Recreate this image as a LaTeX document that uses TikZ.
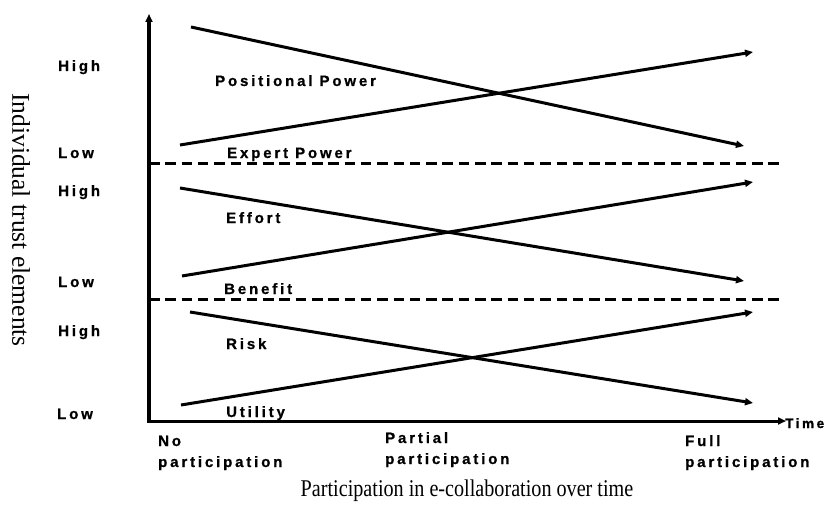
\documentclass[tikz,border=0pt]{standalone}
\usepackage{fontspec}
\usetikzlibrary{arrows.meta}
\newfontfamily\lblfont[LetterSpace=19,FakeBold=0.8]{Liberation Sans Bold}
\newfontfamily\serifrm{Liberation Serif}
\tikzset{
  lbl/.style={inner sep=0pt, anchor=base west, font=\lblfont\fontsize{15}{17}\selectfont},
  trend/.style={line width=3pt, -{Triangle[length=8pt,width=7pt]}},
  axis/.style={line width=3.5pt, -{Triangle[length=8pt,width=7pt]}},
  divider/.style={line width=3pt, dash pattern=on 10.5pt off 5.8pt}
}
\begin{document}
\begin{tikzpicture}[x=1pt,y=-1pt]
\useasboundingbox (0,0) rectangle (835,532);
% axes
\coordinate (O) at (149,421);
\coordinate (ytip) at (149,14);
\coordinate (xtip) at (786,421);
\coordinate (xstart) at (147,421);
\draw[axis, line width=4pt] (O) -- (ytip);
\draw[axis, line width=3pt] (xstart) -- (xtip);
\node[lbl, font=\lblfont\fontsize{13.5}{15}\selectfont] (time) at (785,428) {Time};
% dividers
\coordinate (d1a) at (149,163); \coordinate (d1b) at (780,163);
\coordinate (d2a) at (149,299); \coordinate (d2b) at (780,299);
\draw[divider] (d1a) -- (d1b);
\draw[divider] (d2a) -- (d2b);
% trend lines
\coordinate (a1) at (191,27);  \coordinate (a2) at (744,146);
\coordinate (b1) at (180,145); \coordinate (b2) at (753,52);
\coordinate (c1) at (180,188); \coordinate (c2) at (744,281);
\coordinate (e1) at (182,276); \coordinate (e2) at (753,182);
\coordinate (f1) at (190,312); \coordinate (f2) at (753,403);
\coordinate (g1) at (181,405); \coordinate (g2) at (753,312);
\draw[trend] (a1) -- (a2);
\draw[trend] (b1) -- (b2);
\draw[trend] (c1) -- (c2);
\draw[trend] (e1) -- (e2);
\draw[trend] (f1) -- (f2);
\draw[trend] (g1) -- (g2);
% level labels
\node[lbl] (h1) at (58,71) {High};
\node[lbl] (l1) at (58,158) {Low};
\node[lbl] (h2) at (58,196) {High};
\node[lbl] (l2) at (58,287) {Low};
\node[lbl] (h3) at (58,336) {High};
\node[lbl] (l3) at (57,419) {Low};
% element labels
\node[lbl] (pp) at (215,86) {Positional Power};
\node[lbl] (ep) at (227,158) {Expert Power};
\node[lbl] (ef) at (226,223) {Effort};
\node[lbl] (be) at (224,294) {Benefit};
\node[lbl] (ri) at (226,349) {Risk};
\node[lbl] (ut) at (226,417) {Utility};
% x labels
\node[lbl] (np1) at (158,446) {No};
\node[lbl] (np2) at (158,467) {participation};
\node[lbl] (pa1) at (385,443) {Partial};
\node[lbl] (pa2) at (385,464) {participation};
\node[lbl] (fu1) at (685,446) {Full};
\node[lbl] (fu2) at (685,467) {participation};
% titles
\node[inner sep=0pt, font=\serifrm\fontsize{25.5}{28}\selectfont, rotate=-90] (ylab) at (21,220) {Individual trust elements};
\node[inner sep=0pt, anchor=base, font=\serifrm\fontsize{24}{26}\selectfont] (xlab) at (467,496) {\scalebox{0.84}[1]{Participation in e-collaboration over time}};
\end{tikzpicture}
\end{document}
